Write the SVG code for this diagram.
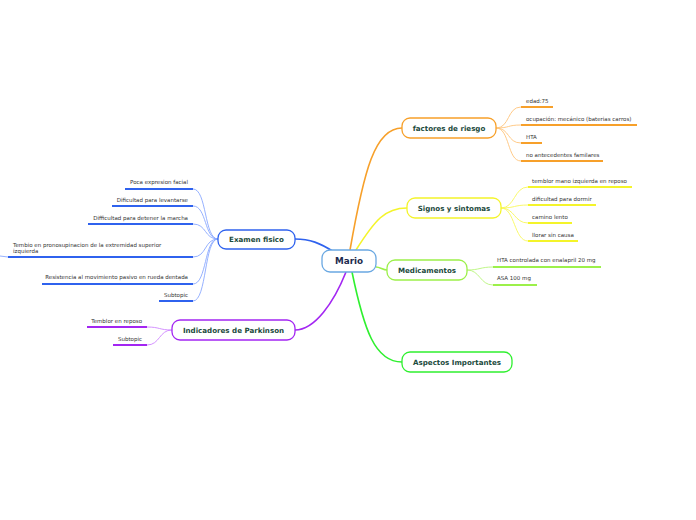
<svg xmlns="http://www.w3.org/2000/svg" width="696" height="520" viewBox="0 0 696 520">
<style>
.bg{fill:#ffffff}
.node{fill:#ffffff;stroke-width:1.3}
.nt{font-family:"DejaVu Sans",Verdana,sans-serif;font-weight:bold;font-size:7.1px;fill:#1b4a3c;text-anchor:middle}
.ct{font-family:"DejaVu Sans",Verdana,sans-serif;font-size:5.5px;fill:#333333}
.r{text-anchor:end}
.main{fill:none;stroke-width:1.6}
.sub{fill:none;stroke-width:0.9}
.ul{fill:none;stroke-width:2}
</style>
<rect class="bg" width="696" height="520"/>
<g id="connectors">
<path class="main" stroke="#f7a02a" d="M350,250 C364,170 375,128 402,128"/>
<path class="main" stroke="#f4f42a" d="M356,250 C375,220 385,208 407,208"/>
<path class="main" stroke="#9cf04a" d="M376,267 C380,267 383,270 387,270"/>
<path class="main" stroke="#2ff02f" d="M352,272 C364,330 375,362 402,362"/>
<path class="main" stroke="#a326f2" d="M346,272 C334,302 315,330 295,330"/>
<path class="main" stroke="#2f62ee" d="M334,252 C320,243 310,239 295,239"/>
<g stroke="#ffc47a" class="sub">
<path d="M496,128 C510,128 507,107 521,107"/>
<path d="M496,128 C510,128 507,125 521,125"/>
<path d="M496,128 C510,128 507,143 521,143"/>
<path d="M496,128 C510,128 507,161 521,161"/>
</g>
<g stroke="#f8f85a" class="sub">
<path d="M501,208 C515,208 514,187 528,187"/>
<path d="M501,208 C515,208 514,205 528,205"/>
<path d="M501,208 C515,208 514,223 528,223"/>
<path d="M501,208 C515,208 514,241 528,241"/>
</g>
<g stroke="#b8f57a" class="sub">
<path d="M467,270 C480,270 480,267 493,267"/>
<path d="M467,270 C480,270 480,285 493,285"/>
</g>
<g stroke="#8aa8ff" class="sub">
<path d="M218,239 C204,239 207,189 193,189"/>
<path d="M218,239 C204,239 207,206 193,206"/>
<path d="M218,239 C204,239 207,224 193,224"/>
<path d="M218,239 C204,239 207,257 193,257"/>
<path d="M218,239 C204,239 207,284 193,284"/>
<path d="M218,239 C204,239 207,301 193,301"/>
</g>
<g stroke="#cf86ff" class="sub">
<path d="M172,330 C159,330 160,327 147,327"/>
<path d="M172,330 C159,330 160,345 147,345"/>
</g>
</g>
<g id="mario">
<rect class="node" x="322" y="250" width="54" height="22" rx="8" stroke="#6aa8e2" stroke-width="1.5"/>
<text x="349" y="264.3" font-family="DejaVu Sans,Verdana,sans-serif" font-weight="bold" font-size="8.8" fill="#1d2b4f" text-anchor="middle">Mario</text>
</g>
<g id="factores">
<rect class="node" x="402" y="118" width="94" height="20" rx="8" stroke="#f7a02a"/>
<text class="nt" x="449" y="130.6">factores de riesgo</text>
</g>
<g id="factores-children">
<text class="ct" x="526" y="103">edad:75</text>
<path class="ul" stroke="#f7a02a" d="M521,107 H553"/>
<text class="ct" x="526" y="121">ocupación: mecánico (baterias carros)</text>
<path class="ul" stroke="#f7a02a" d="M521,125 H637"/>
<text class="ct" x="526" y="139">HTA</text>
<path class="ul" stroke="#f7a02a" d="M521,143 H542"/>
<text class="ct" x="526" y="157">no antecedentes familares</text>
<path class="ul" stroke="#f7a02a" d="M521,161 H603"/>
</g>
<g id="signos">
<rect class="node" x="407" y="198" width="94" height="20" rx="8" stroke="#f4f42a"/>
<text class="nt" x="454" y="210.6">Signos y sintomas</text>
</g>
<g id="signos-children">
<text class="ct" x="532" y="183">temblor mano izquierda en reposo</text>
<path class="ul" stroke="#f4f42a" d="M528,187 H632"/>
<text class="ct" x="532" y="201">dificultad para dormir</text>
<path class="ul" stroke="#f4f42a" d="M528,205 H596"/>
<text class="ct" x="532" y="219">camino lento</text>
<path class="ul" stroke="#f4f42a" d="M528,223 H572"/>
<text class="ct" x="532" y="237">llorar sin causa</text>
<path class="ul" stroke="#f4f42a" d="M528,241 H578"/>
</g>
<g id="medicamentos">
<rect class="node" x="387" y="260" width="80" height="20" rx="8" stroke="#9cf04a"/>
<text class="nt" x="427" y="272.6">Medicamentos</text>
</g>
<g id="medicamentos-children">
<text class="ct" x="497" y="262">HTA controlada con enalapril 20 mg</text>
<path class="ul" stroke="#9cf04a" d="M493,267 H601"/>
<text class="ct" x="497" y="280">ASA 100 mg</text>
<path class="ul" stroke="#9cf04a" d="M493,285 H537"/>
</g>
<g id="aspectos">
<rect class="node" x="402" y="352" width="110" height="20" rx="8" stroke="#2ff02f"/>
<text class="nt" x="457" y="364.6">Aspectos Importantes</text>
</g>
<g id="examen">
<rect class="node" x="218" y="230" width="77" height="19" rx="8" stroke="#2f62ee"/>
<text class="nt" x="256.5" y="242.1">Examen fisico</text>
</g>
<g id="examen-children">
<text class="ct r" x="188" y="184">Poca expresion facial</text>
<path class="ul" stroke="#2f62ee" d="M125,189 H193"/>
<text class="ct r" x="188" y="202">Dificultad para levantarse</text>
<path class="ul" stroke="#2f62ee" d="M112,206 H193"/>
<text class="ct r" x="188" y="220">Difficultad para detener la marcha</text>
<path class="ul" stroke="#2f62ee" d="M88,224 H193"/>
<text class="ct" x="13" y="247">Tembio en pronosupinacion de la extremidad superior</text>
<text class="ct" x="13" y="253">izquierda</text>
<path class="ul" stroke="#2f62ee" d="M8,257 H193"/>
<path fill="none" stroke="#8aa8ff" stroke-width="0.9" d="M0,256 C3,256 5,257 8,257"/>
<text class="ct r" x="188" y="279">Resistencia al movimiento pasivo en rueda dentada</text>
<path class="ul" stroke="#2f62ee" d="M42,284 H193"/>
<text class="ct r" x="188" y="297">Subtopic</text>
<path class="ul" stroke="#2f62ee" d="M159,301 H193"/>
</g>
<g id="indicadores">
<rect class="node" x="172" y="320" width="123" height="20" rx="8" stroke="#a326f2"/>
<text class="nt" x="233.5" y="332.6">Indicadores de Parkinson</text>
</g>
<g id="indicadores-children">
<text class="ct r" x="142" y="323">Temblor en reposo</text>
<path class="ul" stroke="#a326f2" d="M87,327 H147"/>
<text class="ct r" x="142" y="341">Subtopic</text>
<path class="ul" stroke="#a326f2" d="M113,345 H147"/>
</g>
</svg>
